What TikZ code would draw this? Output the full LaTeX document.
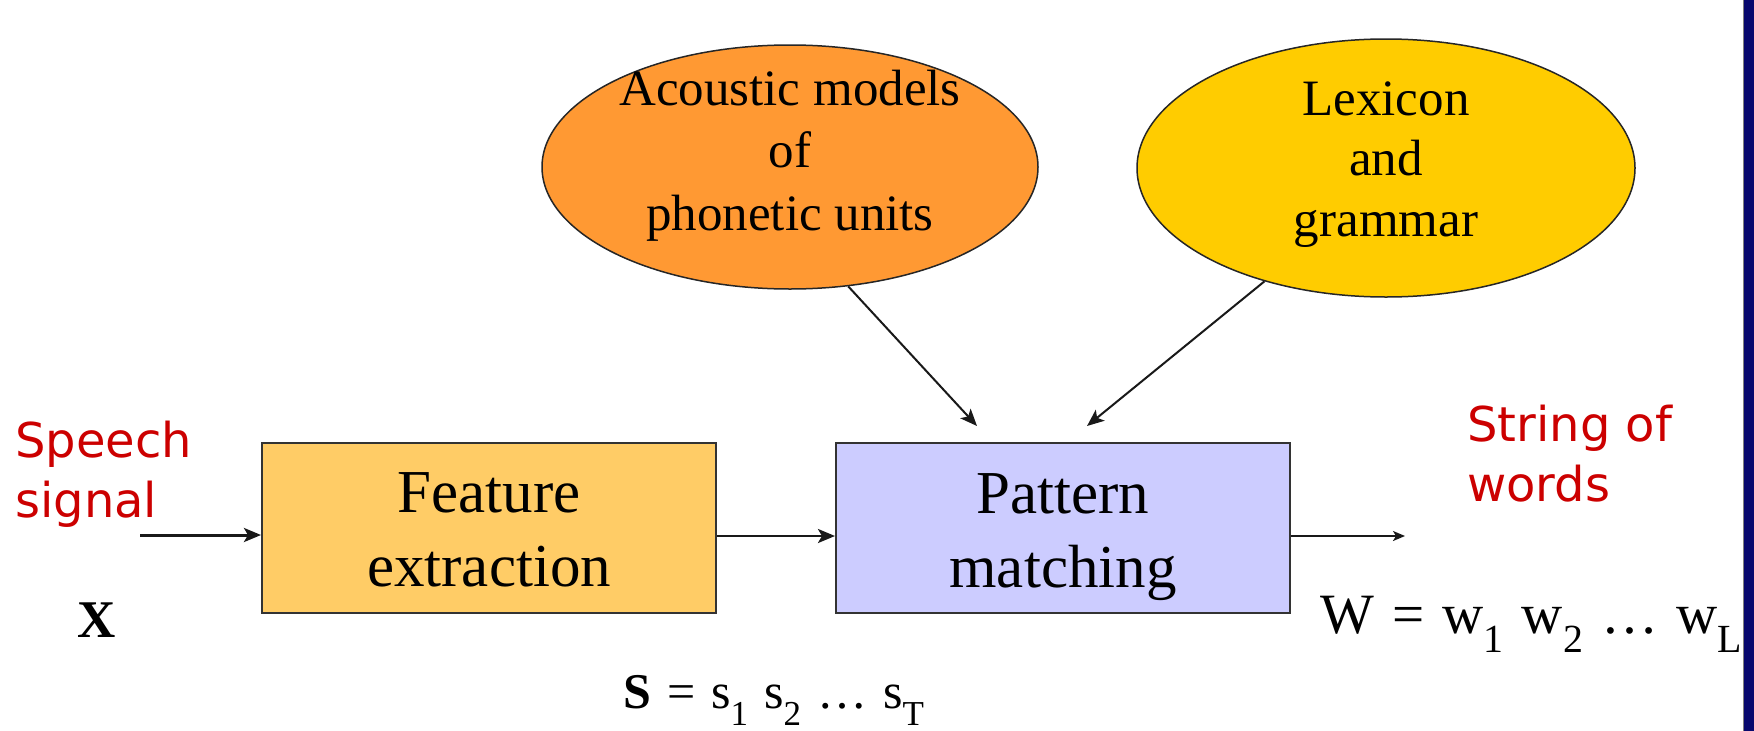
\documentclass[tikz,border=0pt]{standalone}
\usepackage{fontspec}
\usepackage{graphicx}
\setmainfont{Liberation Serif}
\newfontfamily\comicfont{DejaVu Sans}
\usetikzlibrary{shapes.geometric,arrows.meta}
\definecolor{fecol}{RGB}{255,204,102}
\definecolor{pmcol}{RGB}{204,204,255}
\definecolor{acmcol}{RGB}{255,153,51}
\definecolor{lexcol}{RGB}{255,204,0}
\definecolor{redtxt}{RGB}{204,0,0}
\definecolor{navybar}{RGB}{8,8,110}
\newcommand\gp{\hspace{0.32em}}
\newcommand\sbx[1]{\raisebox{-0.35em}{\scalebox{0.7}{#1}}}
\begin{document}
\begin{tikzpicture}[x=1pt,y=-1pt,
  procbox/.style={draw=black!80, line width=2pt, rectangle, inner sep=0pt, align=center, font=\fontsize{61}{74}\selectfont},
  blob/.style={draw=black!85, line width=1.5pt, ellipse, inner sep=0pt},
  blobtext/.style={align=center, inner sep=0pt},
  redlabel/.style={text=redtxt, align=left, inner sep=0pt, anchor=west, font=\comicfont\fontsize{48}{60}\selectfont},
  arr/.style={-{Stealth[length=17pt,width=14pt,inset=4pt]}, line width=2pt, draw=black!90},
  smallarr/.style={-{Stealth[length=12pt,width=10pt,inset=3pt]}, line width=1.8pt, draw=black!90},
]
\useasboundingbox (0,0) rectangle (1754,731);
\fill[white] (0,0) rectangle (1754,731);
\fill[navybar] (1744,0) rectangle (1754,731);
\draw[gray, line width=1pt] (1743.5,0) -- (1743.5,731);

% processing boxes
\node[procbox, fill=fecol, minimum width=454pt, minimum height=170pt] (fe) at (489,528)
  {\rule{0pt}{44pt}Feature\\extraction};
\node[procbox, fill=pmcol, minimum width=454pt, minimum height=170pt] (pm) at (1063,528)
  {\rule{0pt}{57.5pt}Pattern\\matching};

% knowledge sources
\node[blob, fill=acmcol, minimum width=496pt, minimum height=244pt] (acm) at (790,167) {};
\node[blobtext, font=\fontsize{51}{62.5}\selectfont] (acmtxt) at ([yshift=11.5pt]acm.center)
  {Acoustic models\\of\\phonetic units};
\node[blob, fill=lexcol, minimum width=498pt, minimum height=258pt] (lex) at (1386,168) {};
\node[blobtext, font=\fontsize{51}{60.5}\selectfont] (lextxt) at ([yshift=3.5pt]lex.center)
  {Lexicon\\and\\grammar};

% labels
\node[redlabel] (speech) at (15,474) {Speech\\signal};
\node[redlabel] (strw) at (1467,454) {String of\\words};
\node[anchor=base, inner sep=0pt, font=\fontsize{53}{60}\selectfont\bfseries] (xlab) at (97,637) {X};
\node[anchor=base west, inner sep=0pt, font=\fontsize{50}{60}\selectfont] (slab) at (623,708)
  {\textbf{S}\gp=\gp s\sbx{1}\gp s\sbx{2}\gp…\gp s\sbx{T}};
\node[anchor=base west, inner sep=0pt, font=\fontsize{57}{60}\selectfont] (wlab) at (1320,633)
  {W\gp=\gp w\sbx{1}\gp w\sbx{2}\gp…\gp w\sbx{L}};

% connectors
\coordinate (sigin) at (140,535);
\coordinate (wout) at (1405,536);
\coordinate (tipA) at ([xshift=-86pt,yshift=16pt]pm.north);
\coordinate (tipB) at ([xshift=24pt,yshift=16pt]pm.north);
\draw[arr, line width=3pt] (sigin) -- (sigin -| fe.west);
\draw[arr, line width=2.6pt] ([yshift=-8pt]fe.east) -- ([yshift=-8pt]pm.west);
\draw[smallarr] ([yshift=-8pt]pm.east) -- (wout);
\draw[arr] (acm.-64) -- (tipA);
\draw[arr] (lex.-137) -- (tipB);
\end{tikzpicture}
\end{document}
